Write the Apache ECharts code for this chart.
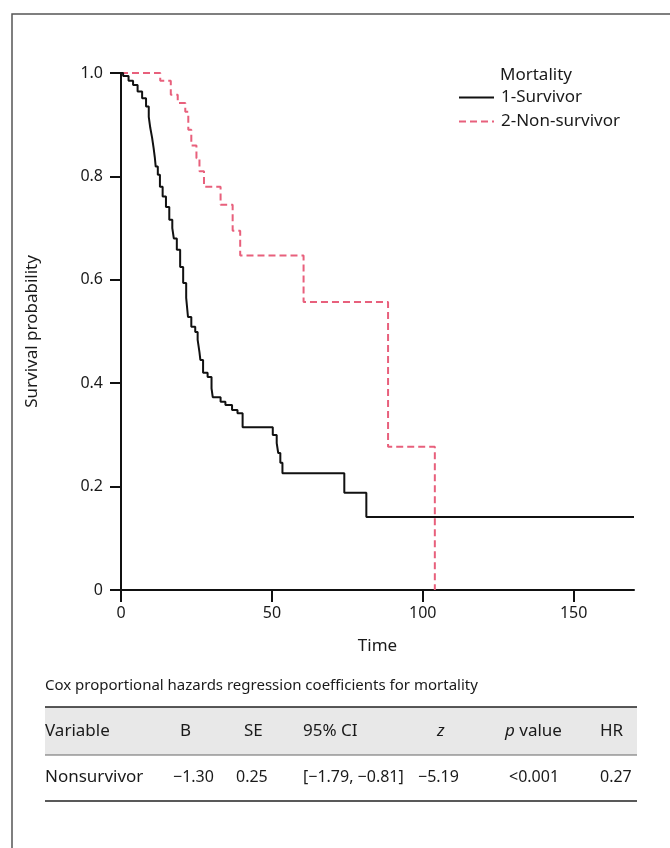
<!DOCTYPE html>
<html><head><meta charset="utf-8">
<script src="https://cdn.jsdelivr.net/npm/echarts@6/dist/echarts.min.js"></script>
<style>html,body{margin:0;padding:0;background:#fff}#c{width:670px;height:848px}</style>
</head><body><div id="c"></div>
<script>
// ---- data ----
const survivorTimes = [0,0.7,2.5,4,5.5,7,8.3,9.2,9.7,10.3,10.8,11.2,11.5,12.2,12.9,13.8,14.9,16,17,17.5,18.5,19.6,20.6,21.6,22.2,23.3,24.6,25.4,26,26.3,27.2,28.7,30,30.4,33,34.6,36.8,38.6,40.3,50.3,51.6,52.1,52.8,53.5,74,81.3,170];
const survivorProb  = [1,0.994,0.985,0.977,0.964,0.951,0.935,0.915,0.894,0.875,0.855,0.837,0.819,0.803,0.78,0.761,0.741,0.716,0.70,0.68,0.658,0.625,0.594,0.565,0.528,0.509,0.499,0.484,0.46,0.445,0.42,0.412,0.39,0.373,0.364,0.358,0.348,0.342,0.315,0.30,0.284,0.265,0.246,0.226,0.188,0.141,0.141];
const nonSurvTimes  = [0,13,16.5,18.8,21.3,22.3,23.3,25,26,27.5,33,37,39.5,60.5,88.5,104];
const nonSurvProb   = [1,0.985,0.958,0.942,0.925,0.89,0.86,0.835,0.81,0.78,0.745,0.695,0.647,0.557,0.277,0];
const seriesNames = ['1-Survivor','2-Non-survivor'];
const legendTitle = 'Mortality';
const xTickValues = [0,50,100,150];
const yTickLabels = ['0','0.2','0.4','0.6','0.8','1.0'];
const tableTitle = 'Cox proportional hazards regression coefficients for mortality';
const tableHeader = ['Variable','B','SE','95% CI','z','p value','HR'];
const tableRow = ['Nonsurvivor','\u22121.30','0.25','[\u22121.79, \u22120.81]','\u22125.19','<0.001','0.27'];

const FONT = '"Noto Sans", "Open Sans", sans-serif';
const TXT = '#1a1a1a';
const PINK = '#e8607c';

const chart = echarts.init(document.getElementById('c'), null, {renderer:'canvas'});
const survData = survivorTimes.map((t,i)=>[t, survivorProb[i]]);
const nonData = nonSurvTimes.map((t,i)=>[t, nonSurvProb[i]]);

const colX = [45,180,244,303,437,505,600];
const rowX = [45,173,236,303,418,509,600];
const g = [];
g.push({type:'rect', shape:{x:12,y:14,width:720,height:900}, style:{fill:'none', stroke:'#555', lineWidth:1.5}, silent:true});
g.push({type:'text', x:500, y:75, style:{text:legendTitle, font:'17px '+FONT, fill:TXT, verticalAlign:'middle'}});
g.push({type:'text', x:45, y:686, style:{text:tableTitle, font:'15px '+FONT, fill:TXT, verticalAlign:'middle'}});
g.push({type:'rect', shape:{x:45,y:707,width:592,height:48}, style:{fill:'#e8e8e8'}});
g.push({type:'line', shape:{x1:45,y1:707,x2:637,y2:707}, style:{stroke:'#222', lineWidth:1.5}});
g.push({type:'line', shape:{x1:45,y1:755,x2:637,y2:755}, style:{stroke:'#666', lineWidth:1}});
g.push({type:'line', shape:{x1:45,y1:801,x2:637,y2:801}, style:{stroke:'#222', lineWidth:1.5}});
tableHeader.forEach((h,i)=>{
  let txt = h, rich = {i:{font:'italic 17px '+FONT, fill:TXT}};
  if (h === 'z') txt = '{i|z}';
  if (h === 'p value') txt = '{i|p} value';
  g.push({type:'text', x:colX[i], y:731, style:{text:txt, rich:rich, font:'17px '+FONT, fill:TXT, verticalAlign:'middle'}});
});
tableRow.forEach((v,i)=>{
  g.push({type:'text', x:rowX[i], y:777, style:{text:v, font:(i===0?'17px ':'16px ')+FONT, fill:TXT, verticalAlign:'middle'}});
});

chart.setOption({
  animation:false,
  backgroundColor:'#fff',
  grid:{left:121, top:73, right:36, bottom:258, containLabel:false},
  legend:{orient:'vertical', left:458, top:89, padding:0, itemWidth:35, itemHeight:10, itemGap:7,
    itemStyle:{opacity:0},
    textStyle:{fontSize:17, fontFamily:FONT, color:TXT, padding:[0,0,0,2]}, data:seriesNames},
  xAxis:{type:'value', min:0, max:170, interval:50,
    name:'Time', nameLocation:'middle', nameGap:48, nameTextStyle:{fontSize:17, fontFamily:FONT, color:TXT},
    axisLine:{lineStyle:{color:'#111', width:2}},
    axisTick:{length:12, customValues:xTickValues, lineStyle:{color:'#111', width:2}},
    axisLabel:{fontSize:16, fontFamily:FONT, color:TXT, margin:15, customValues:xTickValues},
    splitLine:{show:false}},
  yAxis:{type:'value', min:0, max:1, interval:0.2,
    name:'Survival probability', nameLocation:'middle', nameGap:80, nameTextStyle:{fontSize:17, fontFamily:FONT, color:TXT},
    axisLine:{show:true, lineStyle:{color:'#111', width:2}}, axisTick:{show:true, length:11, lineStyle:{color:'#111', width:2}},
    axisLabel:{fontSize:16, fontFamily:FONT, color:TXT, margin:18, formatter:(v)=> yTickLabels[Math.round(v*5)]},
    splitLine:{show:false}},
  series:[
    {name:seriesNames[1], type:'line', step:'end', data:nonData, symbol:'none', showSymbol:false,
      lineStyle:{color:PINK, width:2, type:[7,4]}, itemStyle:{color:PINK}, z:2},
    {name:seriesNames[0], type:'line', step:'end', data:survData, symbol:'none', showSymbol:false,
      lineStyle:{color:'#111', width:2}, itemStyle:{color:'#111'}, z:3}
  ],
  graphic:g
});
</script></body></html>
